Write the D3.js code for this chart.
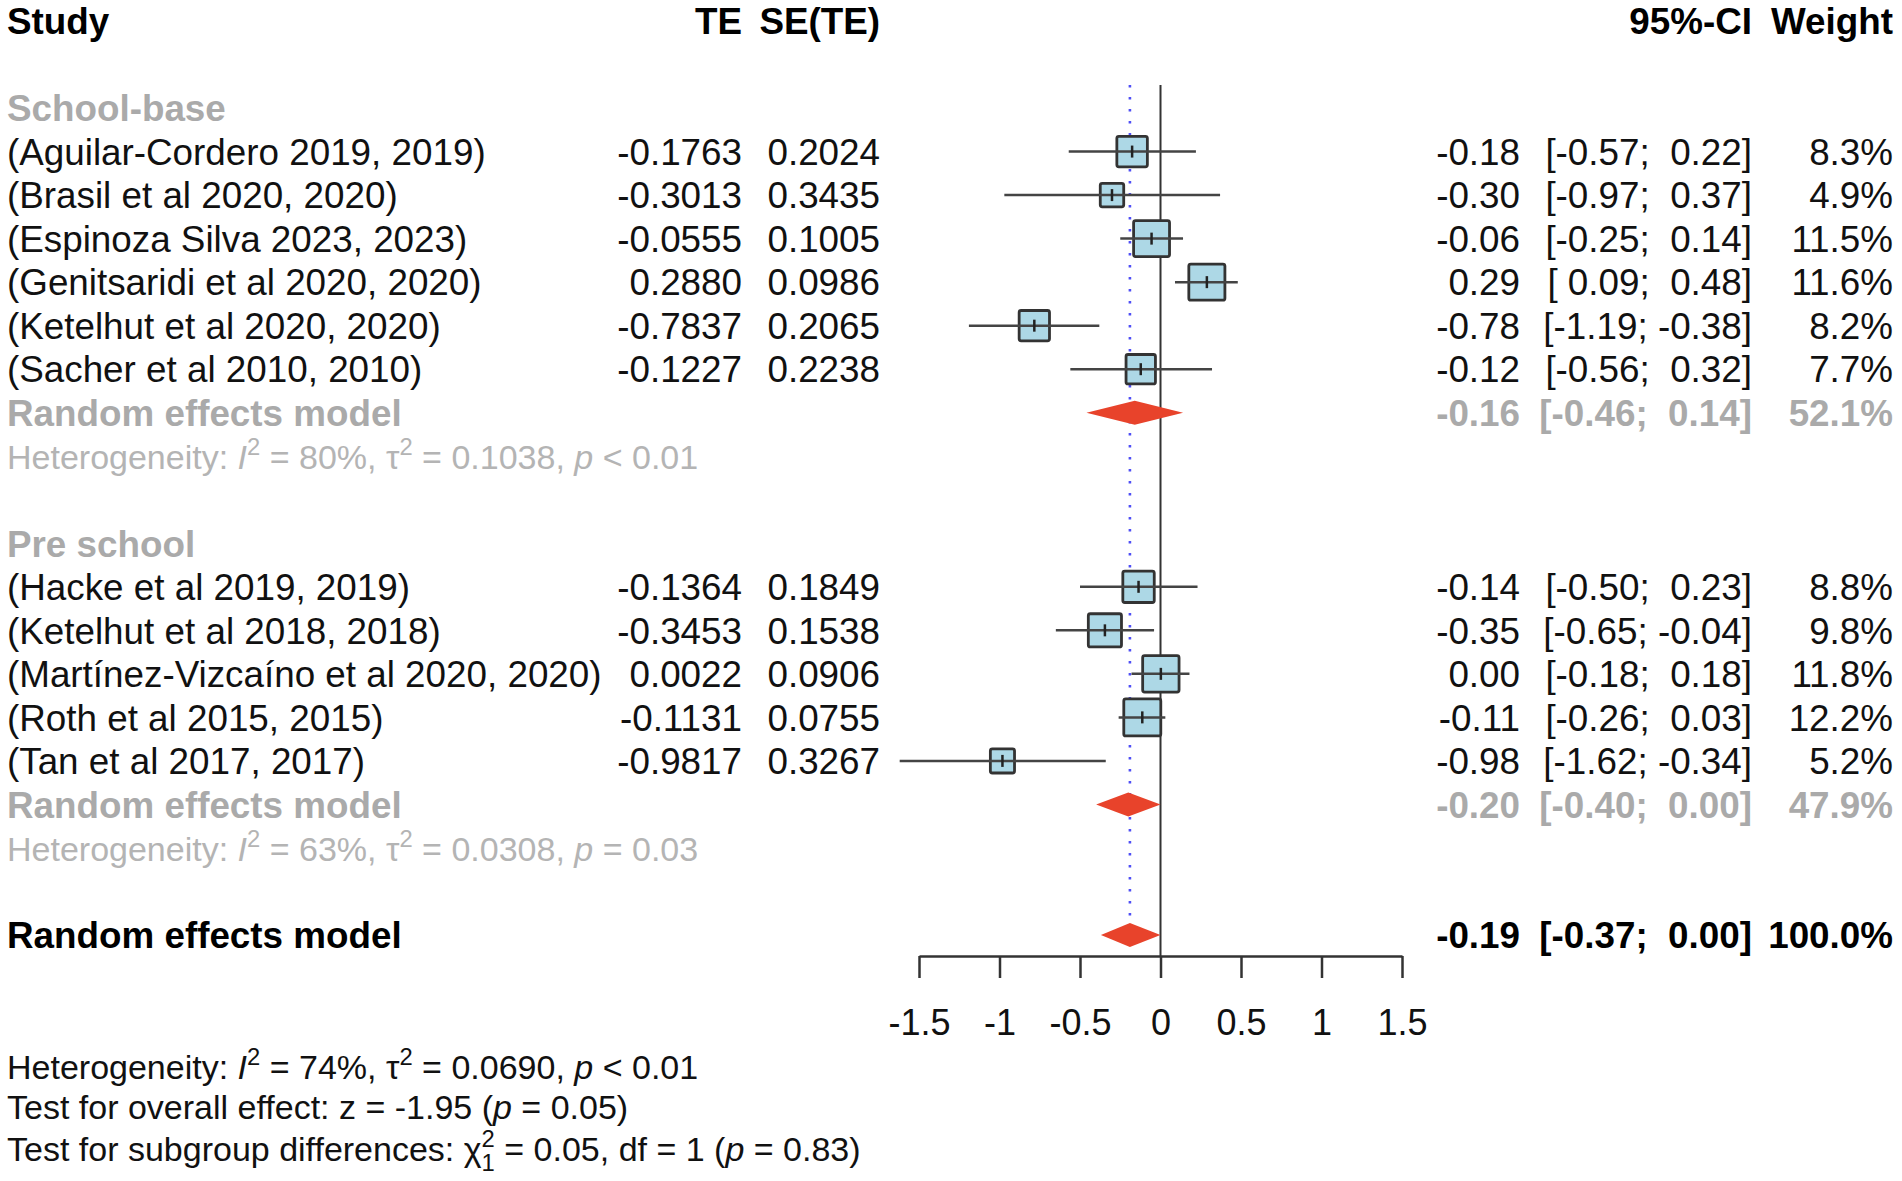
<!DOCTYPE html>
<html>
<head>
<meta charset="utf-8">
<script src="https://cdn.jsdelivr.net/npm/d3@7"></script>
<style>
  body { margin: 0; background: #fff; }
  text { font-family: "Liberation Sans", Arial, Helvetica, sans-serif; white-space: pre; }
</style>
</head>
<body>
<div class="chart"></div>
<script>
// Set up the canvas
var svgWidth = 1902;
var svgHeight = 1181;

// Study data
var studyNames = [
  "(Aguilar-Cordero 2019, 2019)",
  "(Brasil et al 2020, 2020)",
  "(Espinoza Silva 2023, 2023)",
  "(Genitsaridi et al 2020, 2020)",
  "(Ketelhut et al 2020, 2020)",
  "(Sacher et al 2010, 2010)",
  "(Hacke et al 2019, 2019)",
  "(Ketelhut et al 2018, 2018)",
  "(Martínez-Vizcaíno et al 2020, 2020)",
  "(Roth et al 2015, 2015)",
  "(Tan et al 2017, 2017)"
];
var studyGroup = [0, 0, 0, 0, 0, 0, 1, 1, 1, 1, 1];
var teVals = [-0.1763, -0.3013, -0.0555, 0.2880, -0.7837, -0.1227, -0.1364, -0.3453, 0.0022, -0.1131, -0.9817];
var seVals = [0.2024, 0.3435, 0.1005, 0.0986, 0.2065, 0.2238, 0.1849, 0.1538, 0.0906, 0.0755, 0.3267];
var estVals = [-0.18, -0.30, -0.06, 0.29, -0.78, -0.12, -0.14, -0.35, 0.00, -0.11, -0.98];
var lowerVals = [-0.57, -0.97, -0.25, 0.09, -1.19, -0.56, -0.50, -0.65, -0.18, -0.26, -1.62];
var upperVals = [0.22, 0.37, 0.14, 0.48, -0.38, 0.32, 0.23, -0.04, 0.18, 0.03, -0.34];
var weights = [8.3, 4.9, 11.5, 11.6, 8.2, 7.7, 8.8, 9.8, 11.8, 12.2, 5.2];

// Subgroup data
var groupNames = ["School-base", "Pre school"];
var groupEst = [-0.16, -0.20];
var groupLower = [-0.46, -0.40];
var groupUpper = [0.14, 0.00];
var groupWeight = [52.1, 47.9];
var groupI2 = ["80%", "63%"];
var groupTau2 = ["0.1038", "0.0308"];
var groupP = ["< 0.01", "= 0.03"];

// Overall random effects
var overallEst = -0.19;
var overallLower = -0.37;
var overallUpper = 0.00;
var overallWeight = 100.0;

var xTicks = [-1.5, -1, -0.5, 0, 0.5, 1, 1.5];

// row index of each line in the table
var groupStartRow = [2, 12];
var overallRow = 21;

var grey = "#aaaaaa";
var fs = 36.8;    // main font size
var fsHet = 34;   // heterogeneity / test font size

// Create the SVG wrapper
var svg = d3.select(".chart")
  .append("svg")
  .attr("width", svgWidth)
  .attr("height", svgHeight);

svg.append("rect").attr("width", svgWidth).attr("height", svgHeight).attr("fill", "#fff");

// scales
var xScale = d3.scaleLinear().domain([-1.5, 1.5]).range([919, 1402]);
var yRow = d3.scaleLinear().domain([0, 21]).range([21, 935]);
var boxSize = d3.scaleSqrt().domain([0, 12.2]).range([0, 37]);

// column anchors (right aligned)
var colTE = 742, colSE = 880, colEst = 1520, colCI = 1752, colW = 1893, colLeft = 7;

function pad(v) { return (v < 0 ? "" : " ") + v.toFixed(2); }
function ciText(lo, up) { return "[" + pad(lo) + "; " + pad(up) + "]"; }
function base(i, size) { return yRow(i) + 0.36 * (size || fs); }

// row for every study
var rows = studyNames.map(function(name, i) {
  var g = studyGroup[i];
  var k = studyGroup.slice(0, i).filter(function(d) { return d === g; }).length;
  return { i: i, row: groupStartRow[g] + 1 + k };
});

// Header
var header = svg.append("g").attr("font-weight", "bold").attr("font-size", fs).attr("fill", "#000");
header.append("text").attr("x", colLeft).attr("y", base(0)).text("Study");
header.append("text").attr("x", colTE).attr("y", base(0)).attr("text-anchor", "end").text("TE");
header.append("text").attr("x", colSE).attr("y", base(0)).attr("text-anchor", "end").text("SE(TE)");
header.append("text").attr("x", colCI).attr("y", base(0)).attr("text-anchor", "end").text("95%-CI");
header.append("text").attr("x", colW).attr("y", base(0)).attr("text-anchor", "end").text("Weight");

// reference lines
var topY = 85;
svg.append("line")
  .attr("x1", xScale(overallEst)).attr("x2", xScale(overallEst))
  .attr("y1", topY).attr("y2", yRow(overallRow) - 13)
  .attr("stroke", "#4f4ff5").attr("stroke-width", 2.6)
  .attr("stroke-dasharray", "2.6,9.4");

svg.append("line")
  .attr("x1", xScale(0)).attr("x2", xScale(0))
  .attr("y1", topY).attr("y2", 956)
  .attr("stroke", "#333").attr("stroke-width", 2);

// study text columns
var tbl = svg.append("g").attr("font-size", fs).attr("fill", "#111");
rows.forEach(function(r) {
  var i = r.i, yb = base(r.row);
  tbl.append("text").attr("x", colLeft).attr("y", yb).text(studyNames[i]);
  tbl.append("text").attr("x", colTE).attr("y", yb).attr("text-anchor", "end").text(teVals[i].toFixed(4));
  tbl.append("text").attr("x", colSE).attr("y", yb).attr("text-anchor", "end").text(seVals[i].toFixed(4));
  tbl.append("text").attr("x", colEst).attr("y", yb).attr("text-anchor", "end").text(estVals[i].toFixed(2));
  tbl.append("text").attr("x", colCI).attr("y", yb).attr("text-anchor", "end").text(ciText(lowerVals[i], upperVals[i]));
  tbl.append("text").attr("x", colW).attr("y", yb).attr("text-anchor", "end").text(weights[i].toFixed(1) + "%");
});

// heterogeneity text helper
function hetText(sel, x, y, size, color, i2, tau2, p) {
  var t = sel.append("text").attr("x", x).attr("y", y).attr("font-size", size).attr("fill", color);
  t.append("tspan").text("Heterogeneity: ");
  t.append("tspan").attr("font-style", "italic").text("I");
  t.append("tspan").attr("font-size", size * 0.7).attr("dy", -size * 0.42).text("2");
  t.append("tspan").attr("dy", size * 0.42).text(" = " + i2 + ", \u03c4");
  t.append("tspan").attr("font-size", size * 0.7).attr("dy", -size * 0.42).text("2");
  t.append("tspan").attr("dy", size * 0.42).text(" = " + tau2 + ", ");
  t.append("tspan").attr("font-style", "italic").text("p");
  t.append("tspan").text(" " + p);
  return t;
}

// subgroup labels and summaries
groupNames.forEach(function(g, k) {
  var r0 = groupStartRow[k];
  var n = studyGroup.filter(function(d) { return d === k; }).length;
  var rRem = r0 + n + 1;
  var gg = svg.append("g").attr("font-size", fs).attr("fill", grey).attr("font-weight", "bold");
  gg.append("text").attr("x", colLeft).attr("y", base(r0)).text(g);
  gg.append("text").attr("x", colLeft).attr("y", base(rRem)).text("Random effects model");
  gg.append("text").attr("x", colEst).attr("y", base(rRem)).attr("text-anchor", "end").text(groupEst[k].toFixed(2));
  gg.append("text").attr("x", colCI).attr("y", base(rRem)).attr("text-anchor", "end").text(ciText(groupLower[k], groupUpper[k]));
  gg.append("text").attr("x", colW).attr("y", base(rRem)).attr("text-anchor", "end").text(groupWeight[k].toFixed(1) + "%");
  hetText(svg, colLeft, base(rRem + 1, fsHet) + 1, fsHet, "#b4b4b4", groupI2[k], groupTau2[k], groupP[k]);

  // diamond
  var yc = yRow(rRem);
  svg.append("path")
    .attr("d", "M" + xScale(groupLower[k]) + "," + yc +
      "L" + xScale(groupEst[k]) + "," + (yc - 12) +
      "L" + xScale(groupUpper[k]) + "," + yc +
      "L" + xScale(groupEst[k]) + "," + (yc + 12) + "Z")
    .attr("fill", "#e8432b");
});

// overall
var ov = svg.append("g").attr("font-size", fs).attr("fill", "#000").attr("font-weight", "bold");
ov.append("text").attr("x", colLeft).attr("y", base(overallRow)).text("Random effects model");
ov.append("text").attr("x", colEst).attr("y", base(overallRow)).attr("text-anchor", "end").text(overallEst.toFixed(2));
ov.append("text").attr("x", colCI).attr("y", base(overallRow)).attr("text-anchor", "end").text(ciText(overallLower, overallUpper));
ov.append("text").attr("x", colW).attr("y", base(overallRow)).attr("text-anchor", "end").text(overallWeight.toFixed(1) + "%");

var yo = yRow(overallRow);
svg.append("path")
  .attr("d", "M" + xScale(overallLower) + "," + yo +
    "L" + xScale(overallEst) + "," + (yo - 12) +
    "L" + xScale(overallUpper) + "," + yo +
    "L" + xScale(overallEst) + "," + (yo + 12) + "Z")
  .attr("fill", "#e8432b");

// squares, CI lines and centre ticks
var marks = svg.append("g");
marks.selectAll("rect")
  .data(rows)
  .enter()
  .append("rect")
  .attr("x", d => xScale(teVals[d.i]) - boxSize(weights[d.i]) / 2)
  .attr("y", d => yRow(d.row) - boxSize(weights[d.i]) / 2)
  .attr("width", d => boxSize(weights[d.i]))
  .attr("height", d => boxSize(weights[d.i]))
  .attr("rx", 2)
  .attr("fill", "#add8e6")
  .attr("stroke", "#333")
  .attr("stroke-width", 2.8);

marks.selectAll("line.ci")
  .data(rows)
  .enter()
  .append("line")
  .attr("class", "ci")
  .attr("x1", d => xScale(lowerVals[d.i]))
  .attr("x2", d => xScale(upperVals[d.i]))
  .attr("y1", d => yRow(d.row))
  .attr("y2", d => yRow(d.row))
  .attr("stroke", "#444")
  .attr("stroke-width", 2.5);

marks.selectAll("line.mid")
  .data(rows)
  .enter()
  .append("line")
  .attr("class", "mid")
  .attr("x1", d => xScale(teVals[d.i]))
  .attr("x2", d => xScale(teVals[d.i]))
  .attr("y1", d => yRow(d.row) - 6)
  .attr("y2", d => yRow(d.row) + 6)
  .attr("stroke", "#222")
  .attr("stroke-width", 2.5);

// x axis
var axis = svg.append("g")
  .attr("transform", "translate(0, 956)")
  .call(d3.axisBottom(xScale)
    .tickValues(xTicks)
    .tickSize(22)
    .tickSizeOuter(0)
    .tickPadding(31)
    .tickFormat(d => String(d)));
axis.select(".domain").attr("stroke", "#333").attr("stroke-width", 2.5);
axis.selectAll(".tick line").attr("stroke", "#333").attr("stroke-width", 2.5);
axis.selectAll(".tick text")
  .attr("font-size", 36)
  .attr("fill", "#111")
  .attr("font-family", "Liberation Sans, Arial, sans-serif");

// bottom statistics
hetText(svg, colLeft, 1079, fsHet, "#111", "74%", "0.0690", "< 0.01");

var t2 = svg.append("text").attr("x", colLeft).attr("y", 1119).attr("font-size", fsHet).attr("fill", "#111");
t2.append("tspan").text("Test for overall effect: z = -1.95 (");
t2.append("tspan").attr("font-style", "italic").text("p");
t2.append("tspan").text(" = 0.05)");

var t3 = svg.append("text").attr("x", colLeft).attr("y", 1161).attr("font-size", fsHet).attr("fill", "#111");
t3.append("tspan").text("Test for subgroup differences: \u03c7");
t3.append("tspan").attr("font-size", fsHet * 0.7).attr("dy", -fsHet * 0.42).text("2");
t3.append("tspan").attr("font-size", fsHet * 0.7).attr("dx", -fsHet * 0.39).attr("dy", fsHet * 0.72).text("1");
t3.append("tspan").attr("dy", -fsHet * 0.3).text(" = 0.05, df = 1 (");
t3.append("tspan").attr("font-style", "italic").text("p");
t3.append("tspan").text(" = 0.83)");
</script>
</body>
</html>
